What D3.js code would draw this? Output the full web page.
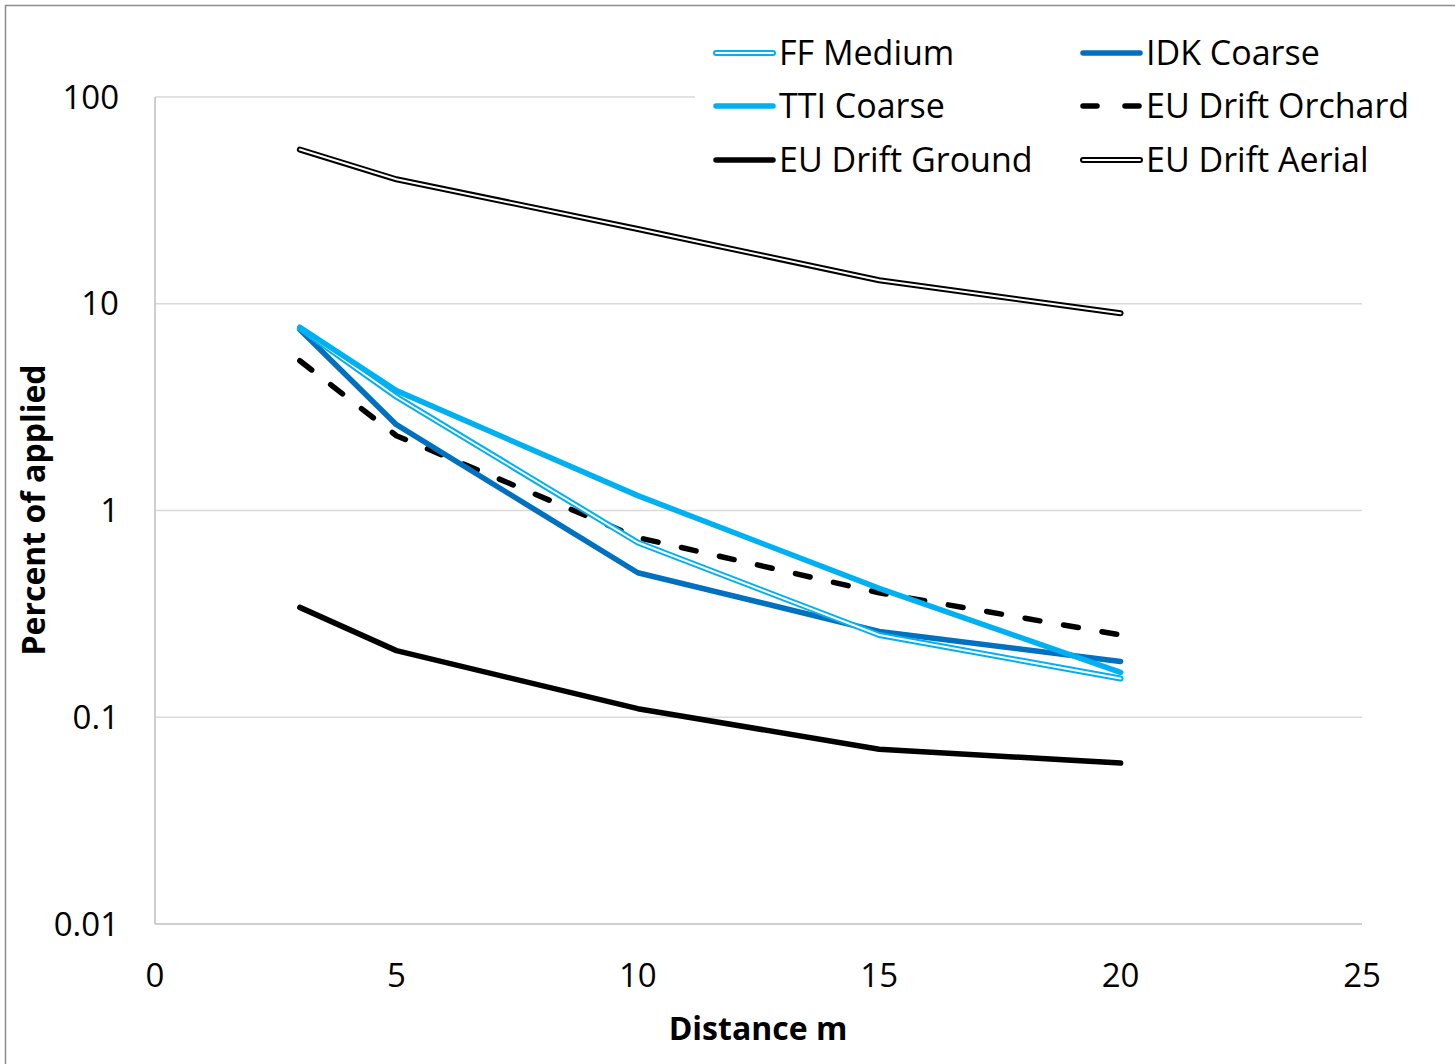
<!DOCTYPE html>
<html>
<head>
<meta charset="utf-8">
<script src="https://cdn.jsdelivr.net/npm/d3@7"></script>
<style>
  body { margin: 0; background: #fff; }
  svg { display: block; font-family: "Open Sans", "Noto Sans", sans-serif; }
</style>
</head>
<body>
<svg id="chart" width="1455" height="1064"></svg>
<script>
// ---- data ----
const distances = [3, 5, 10, 15, 20];
const ffMedium = [7.6, 3.55, 0.70, 0.25, 0.154];
const ttiCoarse = [7.7, 3.8, 1.18, 0.42, 0.165];
const idkCoarse = [7.5, 2.6, 0.50, 0.26, 0.186];
const euOrchard = [5.3, 2.3, 0.74, 0.40, 0.25];
const euGround = [0.34, 0.21, 0.11, 0.07, 0.06];
const euAerial = [55.7, 40, 23, 13, 9];
const xTicks = [0, 5, 10, 15, 20, 25];
const yTicks = [0.01, 0.1, 1, 10, 100];
const yTickLabels = ["0.01", "0.1", "1", "10", "100"];
const seriesNames = ["FF Medium", "IDK Coarse", "TTI Coarse", "EU Drift Orchard", "EU Drift Ground", "EU Drift Aerial"];

const series = [
  { name: "EU Drift Ground", values: euGround, color: "#000000", type: "solid" },
  { name: "EU Drift Aerial", values: euAerial, color: "#000000", type: "double" },
  { name: "EU Drift Orchard", values: euOrchard, color: "#000000", type: "dash" },
  { name: "IDK Coarse", values: idkCoarse, color: "#0070c0", type: "solid" },
  { name: "FF Medium", values: ffMedium, color: "#00b0f0", type: "double" },
  { name: "TTI Coarse", values: ttiCoarse, color: "#00b0f0", type: "solid" }
];
const styleByName = {};
series.forEach(s => styleByName[s.name] = s);

const svg = d3.select("#chart");
const m = { left: 155, right: 1362, top: 97, bottom: 924 };

// outer frame
svg.append("rect").attr("x", 5.5).attr("y", 5.5).attr("width", 1470).attr("height", 1080)
  .attr("fill", "#fff").attr("stroke", "#8c8c8c").attr("stroke-width", 1.5);

const x = d3.scaleLinear().domain([0, 25]).range([m.left, m.right]);
const y = d3.scaleLog().domain([0.01, 100]).range([m.bottom, m.top]);

// gridlines
svg.append("g").selectAll("line").data(yTicks.slice(1)).join("line")
  .attr("x1", m.left).attr("x2", m.right)
  .attr("y1", d => y(d)).attr("y2", d => y(d))
  .attr("stroke", "#d9d9d9").attr("stroke-width", 1.5);

// axes lines
svg.append("line").attr("x1", m.left).attr("x2", m.left).attr("y1", m.top).attr("y2", m.bottom)
  .attr("stroke", "#bfbfbf").attr("stroke-width", 1.5);
svg.append("line").attr("x1", m.left).attr("x2", m.right).attr("y1", m.bottom).attr("y2", m.bottom)
  .attr("stroke", "#bfbfbf").attr("stroke-width", 1.5);

// tick labels
svg.append("g").selectAll("text").data(yTicks).join("text")
  .attr("x", 119).attr("y", d => y(d)).attr("dy", "0.35em")
  .attr("text-anchor", "end").attr("font-size", 33).attr("fill", "#000")
  .text((d, i) => yTickLabels[i]);
svg.append("g").selectAll("text").data(xTicks).join("text")
  .attr("x", d => x(d)).attr("y", 987)
  .attr("text-anchor", "middle").attr("font-size", 33).attr("fill", "#000")
  .text(d => d);

// axis titles
svg.append("text").attr("x", 758).attr("y", 1040).attr("text-anchor", "middle")
  .attr("font-size", 32).attr("font-weight", "bold").text("Distance m");
svg.append("text").attr("transform", "translate(45,510) rotate(-90)").attr("text-anchor", "middle")
  .attr("font-size", 32).attr("font-weight", "bold").text("Percent of applied");

// lines
const line = d3.line().x((d, i) => x(distances[i])).y(d => y(d));
const gLines = svg.append("g").attr("fill", "none").attr("stroke-linecap", "round").attr("stroke-linejoin", "round");
function drawStyled(g, pathFn, s) {
  if (s.type === "double") {
    g.append("path").attr("d", pathFn).attr("stroke", s.color).attr("stroke-width", 6).attr("fill", "none");
    g.append("path").attr("d", pathFn).attr("stroke", "#fff").attr("stroke-width", 2).attr("fill", "none");
  } else if (s.type === "dash") {
    g.append("path").attr("d", pathFn).attr("stroke", s.color).attr("stroke-width", 5.5)
      .attr("stroke-dasharray", "15,24").attr("fill", "none");
  } else {
    g.append("path").attr("d", pathFn).attr("stroke", s.color).attr("stroke-width", 5.5).attr("fill", "none");
  }
}
series.forEach(s => drawStyled(gLines, line(s.values), s));

// legend
const lg = svg.append("g");
lg.append("rect").attr("x", 695).attr("y", 28).attr("width", 730).attr("height", 160).attr("fill", "#fff");
const legendItems = seriesNames.map((n, i) => ({ name: n, col: i % 2, row: Math.floor(i / 2) }));
const colX = [716, 1083];
const rowY = [53, 106, 160];
legendItems.forEach(it => {
  const s = styleByName[it.name];
  const g = lg.append("g").attr("fill", "none").attr("stroke-linecap", "round");
  const x0 = colX[it.col], yy = rowY[it.row];
  const p = `M${x0},${yy}L${x0 + 57},${yy}`;
  if (s.type === "dash") {
    g.append("path").attr("d", p).attr("stroke", s.color).attr("stroke-width", 5.5).attr("stroke-dasharray", "14,28");
  } else {
    drawStyled(g, p, s);
  }
  lg.append("text").attr("x", x0 + 63).attr("y", yy).attr("dy", "0.35em")
    .attr("font-size", 34).attr("fill", "#000").text(it.name);
});
</script>
</body>
</html>
